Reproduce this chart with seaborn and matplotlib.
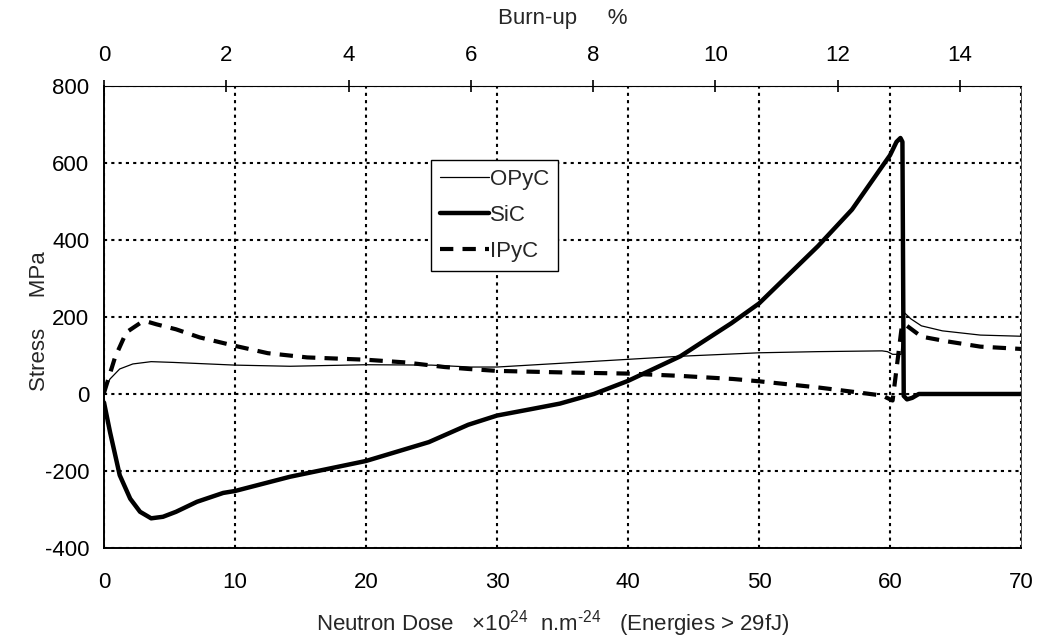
import numpy as np
import pandas as pd
import matplotlib
matplotlib.use("Agg")
import matplotlib.pyplot as plt
import seaborn as sns

# Neutron dose (x10^24 n/m^2) and layer stresses (MPa)
dose_opyc = [0, 0.46, 1.2, 2.2, 3.6, 5.3, 10, 14.2, 20, 25, 28, 30, 35, 40, 44,
             50, 54.5, 59.4, 59.8, 60.2, 60.85, 61.1, 61.6, 62.4, 64.0, 66.9, 70]
stress_opyc = [10, 39, 65, 78, 84, 82, 75, 72, 76, 75, 70, 70, 80, 90, 98,
               107, 110, 112, 110, 103, 103, 211, 195, 177, 164, 153, 150]

dose_sic = [0, 0.46, 1.2, 2.0, 2.75, 3.6, 4.5, 5.5, 7.1, 9.1, 10, 14.2, 20, 24.8,
            27.8, 30, 32.5, 34.8, 37.4, 40, 44, 47.9, 50, 54.5, 57.1, 59.4, 60.0,
            60.5, 60.8, 60.95, 61.05, 61.3, 61.7, 62.2, 70]
stress_sic = [-22, -99, -211, -272, -306, -323, -319, -306, -280, -257, -252, -215,
              -174, -125, -80, -56, -40, -25, 0, 34, 98, 184, 235, 384, 479, 591,
              620, 655, 665, 655, -5, -14, -10, 0, 0]

dose_ipyc = [0, 0.33, 0.84, 1.7, 2.75, 3.4, 4.0, 5.5, 7.3, 10, 12.5, 15.5, 20, 23,
             26, 27.8, 30, 35, 40, 44, 48, 50, 54.5, 57.1, 59.4, 60.2, 60.9, 61.1,
             62.4, 64.3, 66.9, 70]
stress_ipyc = [3, 39, 95, 160, 184, 187, 181, 168, 147, 125, 106, 95, 89, 82,
               70, 65, 60, 56, 53, 47, 39, 33, 17, 6, -4, -17, 175, 182,
               149, 137, 123, 117]

burnup_ticks = [0, 2, 4, 6, 8, 10, 12, 14]
dose_ticks = [0, 10, 20, 30, 40, 50, 60, 70]
stress_ticks = [-400, -200, 0, 200, 400, 600, 800]
DOSE_PER_BURNUP = 70 / 15

sns.set_style("white")
plt.rcParams["font.family"] = ["Liberation Sans", "DejaVu Sans"]
plt.rcParams["mathtext.fontset"] = "custom"
plt.rcParams["mathtext.rm"] = "Liberation Sans"
plt.rcParams["mathtext.it"] = "Liberation Sans:italic"
plt.rcParams["mathtext.bf"] = "Liberation Sans:bold"
plt.rcParams["axes.unicode_minus"] = False

FS = 16

fig = plt.figure(figsize=(10.38, 6.40), dpi=100)
ax = fig.add_axes([0.1002, 0.1438, 0.8834, 0.7218])

opyc = pd.DataFrame({"dose": dose_opyc, "stress": stress_opyc})
sic = pd.DataFrame({"dose": dose_sic, "stress": stress_sic})
ipyc = pd.DataFrame({"dose": dose_ipyc, "stress": stress_ipyc})

sns.lineplot(data=opyc, x="dose", y="stress", ax=ax, color="black",
             linewidth=0.9, sort=False, estimator=None, label="OPyC")
sns.lineplot(data=sic, x="dose", y="stress", ax=ax, color="black",
             linewidth=3.2, sort=False, estimator=None, label="SiC")
sns.lineplot(data=ipyc, x="dose", y="stress", ax=ax, color="black",
             linewidth=3.0, sort=False, estimator=None, label="IPyC")
ax.lines[2].set_linestyle((0, (3.2, 2.2)))

ax.set_xlim(0, 70)
ax.set_ylim(-400, 800)
ax.set_xticks(dose_ticks)
ax.set_yticks(stress_ticks)
ax.tick_params(axis="both", direction="inout", length=9, width=1.2,
               labelsize=FS, colors="black")
ax.tick_params(axis="x", pad=13)
ax.tick_params(axis="y", pad=6)
ax.grid(True, color="black", linestyle=(0, (1.5, 2.0)), linewidth=1.5)

for side in ("left", "bottom"):
    ax.spines[side].set_color("black")
    ax.spines[side].set_linewidth(1.4)
ax.spines["top"].set_visible(False)
ax.spines["right"].set_color("black")
ax.spines["right"].set_linewidth(0.5)

secax = ax.secondary_xaxis("top", functions=(lambda d: d / DOSE_PER_BURNUP,
                                             lambda b: b * DOSE_PER_BURNUP))
secax.set_xticks(burnup_ticks)
secax.tick_params(axis="x", direction="inout", length=9, width=1.2,
                  labelsize=FS, pad=10, colors="black")
secax.spines["top"].set_color("black")
secax.spines["top"].set_linewidth(0.8)

ax.set_xlabel("Neutron Dose   ×10$\\mathregular{^{24}}$  n.m$\\mathregular{^{\u201024}}$   (Energies > 29fJ)",
              fontsize=FS)
ax.xaxis.set_label_coords(0.49, -0.13)
ax.set_ylabel("Stress     MPa", fontsize=FS)
ax.yaxis.set_label_coords(-0.059, 0.49)
secax.set_xlabel("Burn-up     %", fontsize=FS)
secax.xaxis.set_label_coords(0.5, 1.135, transform=ax.transAxes)

leg = ax.legend(loc="upper left", bbox_to_anchor=(0.357, 0.84), fontsize=FS,
                frameon=True, fancybox=False, edgecolor="black",
                handlelength=2.2, handletextpad=0.05, labelspacing=0.68,
                borderpad=0.4, borderaxespad=0)
leg.get_frame().set_linewidth(1.0)
leg.get_frame().set_facecolor("white")
leg.get_frame().set_alpha(1)

fig.savefig("out.png", dpi=100)
